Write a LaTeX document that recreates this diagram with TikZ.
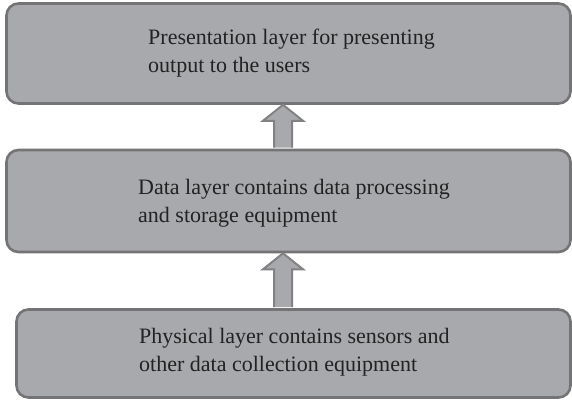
\documentclass[tikz,border=0pt]{standalone}
\usepackage{fontspec}
\setmainfont{Liberation Serif}
\usetikzlibrary{calc}
\definecolor{boxfill}{HTML}{A8A9AC}
\definecolor{boxline}{HTML}{747476}
\definecolor{arrline}{HTML}{828284}
\definecolor{txtcol}{HTML}{222222}
\tikzset{
  layer/.style={draw=boxline, line width=2.6pt, fill=boxfill, rounded corners=12pt, inner sep=0pt},
  txt/.style={anchor=west, align=left, inner sep=0pt, text=txtcol, font=\fontsize{22}{28.5}\selectfont},
  blockarrow/.style={draw=arrline, line width=2pt, fill=boxfill, line join=miter}
}
\begin{document}
\begin{tikzpicture}[x=1pt,y=-1pt]
\useasboundingbox (0,0) rectangle (572,401);
\fill[white] (0,0) rectangle (572,401);
\node[layer, minimum width=564pt, minimum height=100pt] (b1) at (288.5,53.5) {};
\node[layer, minimum width=564pt, minimum height=102pt] (b2) at (288.5,201) {};
\node[layer, minimum width=554pt, minimum height=88pt] (b3) at (293.5,353.5) {};
\node[txt] (t1) at (148,53) {Presentation layer for presenting\\output to the users};
\node[txt] (t2) at (138,203) {Data layer contains data processing\\and storage equipment};
\node[txt] (t3) at (139,352) {Physical layer contains sensors and\\other data collection equipment};
% arrow from data layer to presentation layer
\coordinate (a1b) at ($(b2.north)+(-5.5,0)$);
\coordinate (a1t) at ($(b1.south)+(-5.5,0)$);
\draw[blockarrow] ($(a1b)+(-9,-1)$) -- ($(a1t)+(-9,16)$) -- ($(a1t)+(-20,16)$) -- (a1t) -- ($(a1t)+(20,16)$) -- ($(a1t)+(9,16)$) -- ($(a1b)+(9,-1)$);
% arrow from physical layer to data layer
\coordinate (a2b) at ($(b3.north)+(-10.5,0)$);
\coordinate (a2t) at ($(b2.south)+(-5.5,0)$);
\draw[blockarrow] ($(a2b)+(-9,-1)$) -- ($(a2t)+(-9,16)$) -- ($(a2t)+(-20,16)$) -- (a2t) -- ($(a2t)+(20,16)$) -- ($(a2t)+(9,16)$) -- ($(a2b)+(9,-1)$);
\end{tikzpicture}
\end{document}
